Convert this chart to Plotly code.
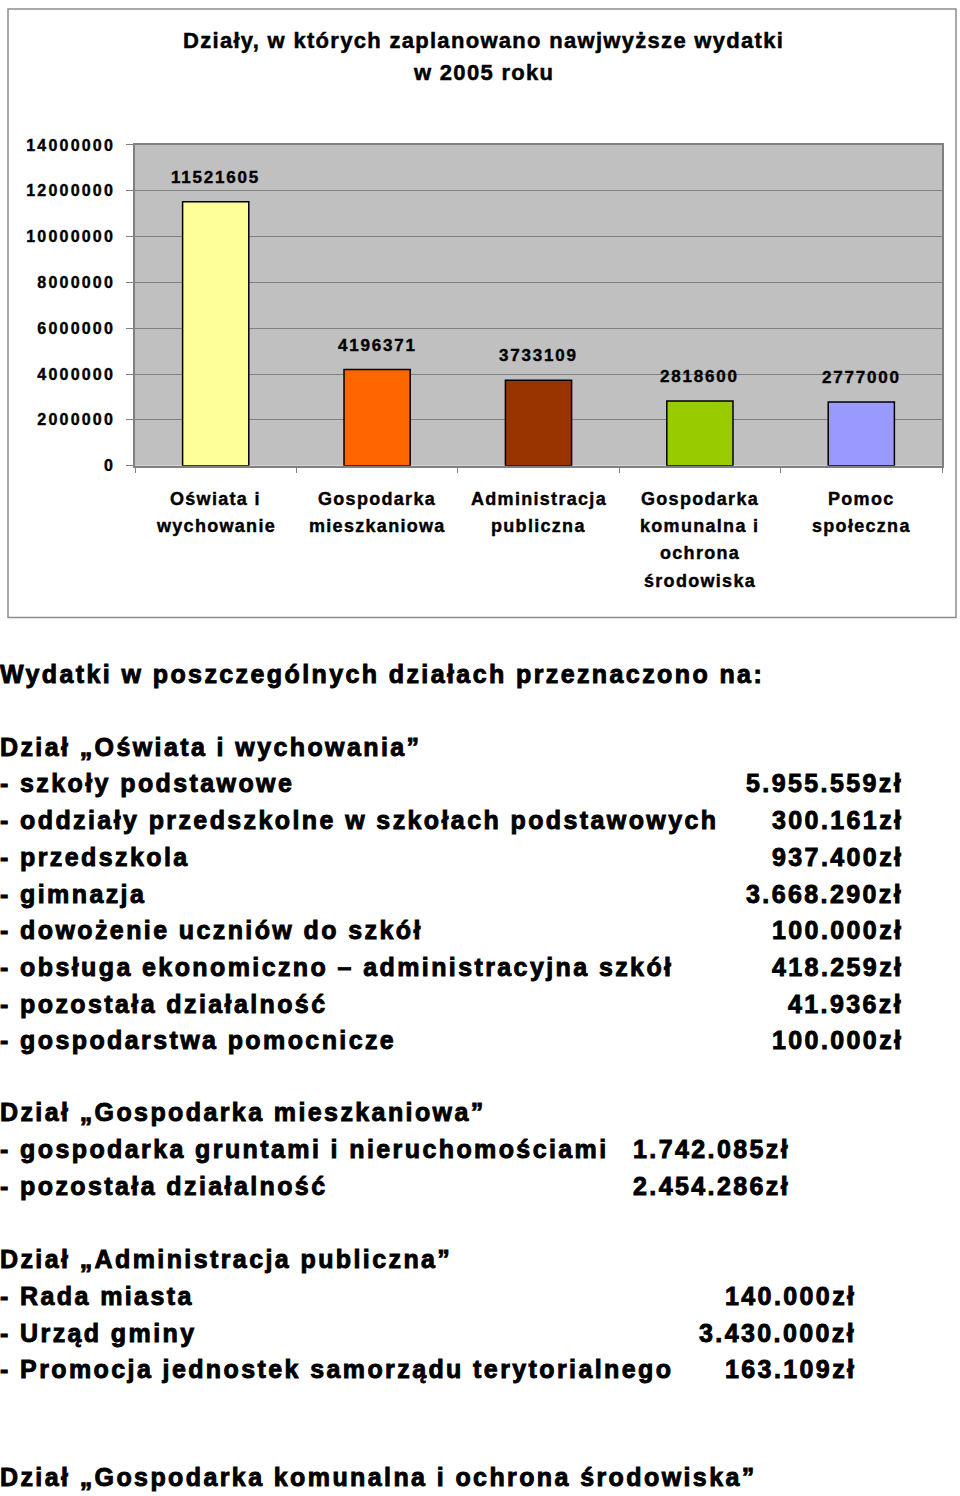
import plotly.graph_objects as go

# ---------------- data ----------------
category_lines = [
    ["Oświata i", "wychowanie"],
    ["Gospodarka", "mieszkaniowa"],
    ["Administracja", "publiczna"],
    ["Gospodarka", "komunalna i", "ochrona", "środowiska"],
    ["Pomoc", "społeczna"],
]
categories = [" ".join(l) for l in category_lines]
values = [11521605, 4196371, 3733109, 2818600, 2777000]
bar_colors = ["#FFFF99", "#FF6600", "#993300", "#99CC00", "#9999FF"]
y_tick_values = [0, 2000000, 4000000, 6000000, 8000000, 10000000, 12000000, 14000000]
y_tick_labels = [str(v) for v in y_tick_values]
title_lines = ["Działy, w których zaplanowano nawjwyższe wydatki", "w 2005 roku"]

heading = "Wydatki w poszczególnych działach przeznaczono na:"
sec1_title = "Dział „Oświata i wychowania”"
sec1_items = [
    "- szkoły podstawowe",
    "- oddziały przedszkolne w szkołach podstawowych",
    "- przedszkola",
    "- gimnazja",
    "- dowożenie uczniów do szkół",
    "- obsługa ekonomiczno – administracyjna szkół",
    "- pozostała działalność",
    "- gospodarstwa pomocnicze",
]
sec1_amounts = [5955559, 300161, 937400, 3668290, 100000, 418259, 41936, 100000]
sec2_title = "Dział „Gospodarka mieszkaniowa”"
sec2_items = ["- gospodarka gruntami i nieruchomościami", "- pozostała działalność"]
sec2_amounts = [1742085, 2454286]
sec3_title = "Dział „Administracja publiczna”"
sec3_items = ["- Rada miasta", "- Urząd gminy", "- Promocja jednostek samorządu terytorialnego"]
sec3_amounts = [140000, 3430000, 163109]
sec4_title = "Dział „Gospodarka komunalna i ochrona środowiska”"

# ---------------- helpers ----------------
W, H = 960, 1496
OFF, SC = 8, 0.9893      # observed vertical mapping of the page photo
FONT = "Liberation Sans, Arial, sans-serif"


def px(x):
    return x / W


def py(y):
    # y given in target-picture pixels
    return 1 - ((y - OFF) / SC) / H


def sp(text, s, stroke=0.5):
    return (f'<b><span style="letter-spacing:{s}px;stroke:black;'
            f'stroke-width:{stroke}px">{text}</span></b>')


def zl(v):
    return f"{v:,}".replace(",", ".") + "zł"


fig = go.Figure()
fig.add_trace(go.Bar(
    x=categories, y=values,
    marker=dict(color=bar_colors, line=dict(color="black", width=1.5)),
    hoverinfo="x+y",
))

ann = []
for i, t in enumerate(title_lines):
    ann.append(dict(text=sp(t, 1.3, 0.5), x=px(483), y=py(41 + 32 * i), xref="paper", yref="paper",
                    xanchor="center", yanchor="middle", showarrow=False,
                    font=dict(family=FONT, size=22, color="black", weight="bold")))
for c, v in zip(categories, values):
    ann.append(dict(text=sp(str(v), 1.8, 0.4), x=c, y=v, xref="x", yref="y", yanchor="middle",
                    yshift=24 / SC, showarrow=False,
                    font=dict(family=FONT, size=17, color="black", weight="bold")))
for c, lines in zip(categories, category_lines):
    for j, line in enumerate(lines):
        ann.append(dict(text=sp(line, 1.3, 0.4), x=c, y=py(499 + 27.4 * j), xref="x", yref="paper",
                        yanchor="middle", showarrow=False,
                        font=dict(family=FONT, size=18, color="black", weight="bold")))

LS = 2.4
BIG = dict(family=FONT, size=25, color="black", weight="bold")


def left(text, y):
    ann.append(dict(text=sp(text, LS, 0.9), x=0, y=py(y), xref="paper", yref="paper",
                    xanchor="left", yanchor="middle", showarrow=False, font=BIG, xshift=-2))


def right(text, x, y):
    ann.append(dict(text=sp(text, LS, 0.9), x=px(x), y=py(y), xref="paper", yref="paper",
                    xanchor="right", yanchor="middle", showarrow=False, font=BIG))


left(heading, 674)
left(sec1_title, 747)
for i, (t, a) in enumerate(zip(sec1_items, sec1_amounts)):
    y = 784 + 36.7 * i
    left(t, y)
    right(zl(a), 905, y)
left(sec2_title, 1113)
for i, (t, a) in enumerate(zip(sec2_items, sec2_amounts)):
    y = 1150 + 36.7 * i
    left(t, y)
    right(zl(a), 792, y)
left(sec3_title, 1260)
for i, (t, a) in enumerate(zip(sec3_items, sec3_amounts)):
    y = 1297 + 36.6 * i
    left(t, y)
    right(zl(a), 858, y)
left(sec4_title, 1478)

fig.update_layout(
    width=W, height=H,
    margin=dict(l=0, r=0, t=0, b=0),
    paper_bgcolor="white",
    plot_bgcolor="#C0C0C0",
    showlegend=False,
    bargap=0.59,
    annotations=ann,
    shapes=[dict(type="rect", xref="paper", yref="paper",
                 x0=px(8), x1=px(956), y0=py(618), y1=py(9),
                 line=dict(color="#8c8c8c", width=1.5), fillcolor="rgba(0,0,0,0)", layer="below")],
    xaxis=dict(domain=[px(135), px(942)], showticklabels=False, ticks="outside",
               tickson="boundaries", ticklen=6, tickcolor="#808080",
               showline=True, linecolor="#808080", linewidth=1.5, mirror=True,
               showgrid=False, fixedrange=True),
    yaxis=dict(domain=[py(466), py(145)], range=[0, 14000000],
               tickmode="array", tickvals=y_tick_values,
               ticktext=[sp(t, 2.2, 0.4) for t in y_tick_labels],
               ticks="outside", ticklen=7, tickcolor="#808080",
               ticklabelstandoff=8,
               tickfont=dict(family=FONT, size=16, color="black", weight="bold"),
               showline=True, linecolor="#808080", linewidth=1.5, mirror=True,
               showgrid=True, gridcolor="#808080", gridwidth=1,
               zeroline=False, fixedrange=True),
)

fig.write_html("out.html", config={"displayModeBar": False})
